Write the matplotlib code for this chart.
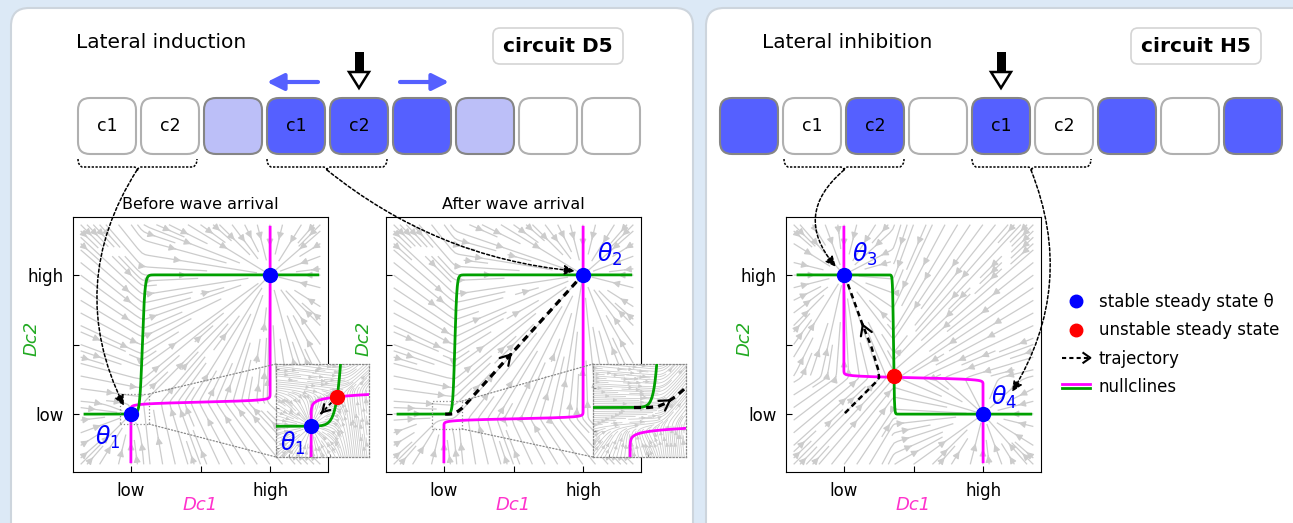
import numpy as np
import matplotlib
matplotlib.use('Agg')
import matplotlib.pyplot as plt
from matplotlib.patches import FancyBboxPatch, Polygon, Rectangle, FancyArrowPatch, ConnectionPatch, PathPatch
from matplotlib.path import Path
from matplotlib.lines import Line2D
from matplotlib.legend_handler import HandlerBase

W, H = 1293, 523

# expression levels on the normalised (log) axes
low, mid, high = 0.227, 0.5, 0.773

# cell rows
induction_colors = ['white', 'white', 'light', 'blue', 'blue', 'blue', 'light', 'white', 'white']
induction_labels = ['c1', 'c2', '', 'c1', 'c2', '', '', '', '']
inhibition_colors = ['blue', 'white', 'blue', 'white', 'blue', 'white', 'blue', 'white', 'blue']
inhibition_labels = ['', 'c1', 'c2', '', 'c1', 'c2', '', '', '']

# nullcline switches (threshold, width, direction)
before_dc1 = (0.274, 0.0035, 1)
before_dc2 = (0.272, 0.005, 1)
after_dc1 = (0.2085, 0.0031, 1)
after_dc2 = (0.270, 0.004, 1)
inhib_dc1 = (0.3695, 0.0031, -1)
inhib_dc2 = (0.4215, 0.0017, -1)

# steady states
before_stable = [(low, low), (high, high)]
before_unstable = (0.259, 0.264)
after_stable = [(high, high)]
inhib_stable = [(low, high), (high, low)]
inhib_unstable = (0.424, 0.376)

# trajectories
traj1_x = [0.252, 0.239]
traj1_y = [0.257, 0.243]
traj2_x = [0.232, 0.250, 0.262, 0.272, 0.285, 0.300, 0.500, 0.757]
traj2_y = [0.227, 0.227, 0.228, 0.232, 0.240, 0.252, 0.473, 0.757]
traj3_x = [0.231, 0.300, 0.350, 0.365, 0.362, 0.335, 0.298, 0.265, 0.236]
traj3_y = [0.231, 0.300, 0.350, 0.370, 0.400, 0.490, 0.584, 0.675, 0.755]

MAG = '#ff00ff'
GRN = '#00a000'
CELL_BLUE = '#5560ff'
CELL_LIGHT = '#bcbff8'
STREAM = '#cccccc'


def sig(z):
    return 0.5 * (1 + np.tanh(z / 2))


def switch(v, p):
    thr, w, s = p
    return low + (high - low) * sig(s * (v - thr) / w)


fig = plt.figure(figsize=(W / 100, H / 100), dpi=100)
fig.patch.set_facecolor('#dce9f6')


def px_axes(left, top, width, height, **kw):
    return fig.add_axes([left / W, 1 - (top + height) / H, width / W, height / H], **kw)


bg = px_axes(0, 0, W, H)
bg.set_xlim(0, W)
bg.set_ylim(H, 0)
bg.axis('off')
bg.set_zorder(-1)

# white panels
for x0, wd in [(11, 682), (706, 640)]:
    bg.add_patch(FancyBboxPatch((x0, 8), wd, 600, boxstyle='round,pad=0,rounding_size=18',
                                fc='white', ec='#cdd5dd', lw=1.5))

bg.text(76, 43, 'Lateral induction', fontsize=14.5, va='center')
bg.text(762, 43, 'Lateral inhibition', fontsize=14.5, va='center')
for x0, txt in [(493, 'circuit D5'), (1131, 'circuit H5')]:
    bg.add_patch(FancyBboxPatch((x0, 28), 130, 36, boxstyle='round,pad=0,rounding_size=7',
                                fc='white', ec='#d4d4d4', lw=1.2))
    bg.text(x0 + 65, 46.5, txt, fontsize=14.5, fontweight='bold', ha='center', va='center')

fills = {'white': 'white', 'light': CELL_LIGHT, 'blue': CELL_BLUE}


def cell_row(x_start, colors, labels):
    for i, (c, lab) in enumerate(zip(colors, labels)):
        x = x_start + 63 * i
        ec = '#b0b0b0' if c == 'white' else '#858585'
        bg.add_patch(FancyBboxPatch((x, 98), 58, 56, boxstyle='round,pad=0,rounding_size=12',
                                    fc=fills[c], ec=ec, lw=1.5))
        if lab:
            bg.text(x + 29, 126, lab, fontsize=12.5, ha='center', va='center')


cell_row(78, induction_colors, induction_labels)
cell_row(720, inhibition_colors, inhibition_labels)

# wave direction arrows
for xa, xb in [(318, 267), (400, 449)]:
    bg.annotate('', xy=(xb, 82), xytext=(xa, 82),
                arrowprops=dict(arrowstyle='-|>,head_length=0.5,head_width=0.25', color=CELL_BLUE,
                                lw=3, shrinkA=0, shrinkB=0, mutation_scale=20))

# perturbation markers
for xc in [359, 1001]:
    bg.add_patch(Rectangle((xc - 4.5, 52), 9, 21, fc='k', ec='none'))
    bg.add_patch(Polygon([(xc - 10, 72), (xc + 10, 72), (xc, 88)], closed=True, fc='white', ec='k', lw=1.8))

# dotted braces under the cell pairs
for xl, xr in [(78, 197), (267, 387), (784, 904), (972, 1091)]:
    xm = (xl + xr) / 2
    verts = [(xl, 159), (xl, 165), (xl + 4, 167), (xm - 4, 167), (xm, 167), (xm, 171),
             (xm, 167), (xm + 4, 167), (xr - 4, 167), (xr, 165), (xr, 159)]
    codes = [Path.MOVETO, Path.CURVE3, Path.CURVE3, Path.LINETO, Path.CURVE3, Path.CURVE3,
             Path.CURVE3, Path.CURVE3, Path.LINETO, Path.CURVE3, Path.CURVE3]
    bg.add_patch(PathPatch(Path(verts, codes), fill=False, ec='k', lw=1.1, ls=(0, (1.5, 1))))


def setup_axes(ax, ylabels=True, ylab_x=-0.129):
    ax.set_xlim(0, 1)
    ax.set_ylim(0, 1)
    ax.set_xticks([low, mid, high])
    ax.set_xticklabels(['low', '', 'high'])
    ax.set_yticks([low, mid, high])
    ax.set_yticklabels(['low', '', 'high'] if ylabels else ['', '', ''])
    ax.tick_params(direction='in', length=4, labelsize=12, pad=7)
    ax.set_xlabel('Dc1', color='#ff33cc', style='italic', fontsize=13)
    ax.xaxis.set_label_coords(0.5, -0.095)
    ax.set_ylabel('Dc2', color='#22aa22', style='italic', fontsize=13)
    ax.yaxis.set_label_coords(ylab_x, 0.525)


def phase(ax, p1, p2, extent, density, lw, asize):
    x0, x1, y0, y1 = extent
    gx = np.linspace(x0, x1, 160)
    gy = np.linspace(y0, y1, 160)
    X, Y = np.meshgrid(gx, gy)
    U = switch(Y, p1) - X
    V = switch(X, p2) - Y
    ax.streamplot(gx, gy, U, V, density=density, color=STREAM, linewidth=lw,
                  arrowsize=asize, zorder=1)
    ys = np.linspace(0.04, 0.96, 3000)
    ax.plot(switch(ys, p1), ys, color=MAG, lw=2, zorder=3)
    xs = np.linspace(0.047, 0.96, 3000)
    ax.plot(xs, switch(xs, p2), color=GRN, lw=2, zorder=3)


def head(ax, xs, ys, i, frac, ms=14):
    x0, y0, x1, y1 = xs[i], ys[i], xs[i + 1], ys[i + 1]
    px, py = x0 + frac * (x1 - x0), y0 + frac * (y1 - y0)
    ax.annotate('', xy=(px, py), xytext=(px - 0.02 * (x1 - x0), py - 0.02 * (y1 - y0)),
                arrowprops=dict(arrowstyle='->,head_length=0.5,head_width=0.3', lw=1.6, color='k',
                                shrinkA=0, shrinkB=0, mutation_scale=ms), zorder=6)


def dots(ax, pts, color, ms=10):
    for x, y in pts:
        ax.plot(x, y, 'o', color=color, ms=ms, zorder=7)


def inset(ax, left, top, lims):
    ins = px_axes(left, top, 93, 93)
    ins.set_xlim(lims[0], lims[1])
    ins.set_ylim(lims[2], lims[3])
    ins.tick_params(direction='in', length=2, width=0.6, color='#777777',
                    labelleft=False, labelbottom=False)
    for s in ins.spines.values():
        s.set_linestyle(':')
        s.set_edgecolor('#888888')
        s.set_linewidth(0.9)
    ax.add_patch(Rectangle((lims[0], lims[2]), lims[1] - lims[0], lims[3] - lims[2], fill=False,
                           ls=':', ec='#888888', lw=0.9, zorder=4))
    for a, b in [((lims[1], lims[3]), (0, 1)), ((lims[1], lims[2]), (0, 0))]:
        fig.add_artist(ConnectionPatch(xyA=a, coordsA=ax.transData, xyB=b, coordsB=ins.transAxes,
                                       ls=':', color='#888888', lw=0.9))
    return ins


# before wave arrival
ax1 = px_axes(73, 217, 255, 255)
phase(ax1, before_dc1, before_dc2, (0.03, 0.97, 0.03, 0.97), 1.3, 0.9, 1.0)
dots(ax1, before_stable, '#0000ff')
setup_axes(ax1)
ax1.set_title('Before wave arrival', fontsize=11.5, pad=6)
ax1.annotate(r'$\theta_{\mathit{1}}$', xy=before_stable[0], xytext=(-17, -17), textcoords='offset points',
             color='#0000ff', fontsize=17, ha='center', va='center')
lim1 = (0.184, 0.298, 0.188, 0.306)
in1 = inset(ax1, 276, 364, lim1)
phase(in1, before_dc1, before_dc2, lim1, 1.6, 0.6, 0.5)
in1.plot(traj1_x, traj1_y, color='k', lw=1.3, ls=(0, (2, 1.5)), zorder=5)
head(in1, traj1_x, traj1_y, 0, 1.0, ms=10)
dots(in1, before_stable[:1], '#0000ff')
dots(in1, [before_unstable], '#ff0000')
in1.annotate(r'$\theta_{\mathit{1}}$', xy=before_stable[0], xytext=(-13, -12), textcoords='offset points',
             color='#0000ff', fontsize=17, ha='center', va='center')

# after wave arrival
ax2 = px_axes(386, 217, 255, 255)
phase(ax2, after_dc1, after_dc2, (0.03, 0.97, 0.03, 0.97), 1.3, 0.9, 1.0)
ax2.plot(traj2_x, traj2_y, color='k', lw=2.3, ls=(0, (2.2, 1.6)), zorder=5)
head(ax2, traj2_x, traj2_y, 5, 0.97)
dots(ax2, after_stable, '#0000ff')
setup_axes(ax2, ylabels=False, ylab_x=-0.051)
ax2.set_title('After wave arrival', fontsize=11.5, pad=6)
ax2.annotate(r'$\theta_{\mathit{2}}$', xy=after_stable[0], xytext=(19, 15), textcoords='offset points',
             color='#0000ff', fontsize=17, ha='center', va='center')
lim2 = (0.180, 0.298, 0.169, 0.278)
in2 = inset(ax2, 593, 364, lim2)
phase(in2, after_dc1, after_dc2, lim2, 1.6, 0.6, 0.5)
in2.plot(traj2_x, traj2_y, color='k', lw=2.3, ls=(0, (2.2, 1.6)), zorder=5)
head(in2, traj2_x, traj2_y, 3, 0.6)

# lateral inhibition
ax3 = px_axes(786, 217, 255, 255)
phase(ax3, inhib_dc1, inhib_dc2, (0.03, 0.97, 0.03, 0.97), 1.3, 0.9, 1.0)
ax3.plot(traj3_x, traj3_y, color='k', lw=1.8, ls=(0, (2.2, 1.6)), zorder=5)
head(ax3, traj3_x, traj3_y, 5, 1.0)
dots(ax3, inhib_stable, '#0000ff')
dots(ax3, [inhib_unstable], '#ff0000')
setup_axes(ax3)
ax3.annotate(r'$\theta_{\mathit{3}}$', xy=inhib_stable[0], xytext=(15, 15), textcoords='offset points',
             color='#0000ff', fontsize=17, ha='center', va='center')
ax3.annotate(r'$\theta_{\mathit{4}}$', xy=inhib_stable[1], xytext=(15, 12), textcoords='offset points',
             color='#0000ff', fontsize=17, ha='center', va='center')


class TrajHandler(HandlerBase):
    def create_artists(self, legend, orig, xd, yd, width, height, fontsize, trans):
        y = height / 2 - yd
        x0 = -xd
        line = Line2D([x0, x0 + width - 2], [y, y], color='k', lw=1.5, ls=(0, (2, 1.5)), transform=trans)
        tip = Line2D([x0 + width - 5, x0 + width, x0 + width - 5], [y + 3.5, y, y - 3.5],
                     color='k', lw=1.5, transform=trans)
        return [line, tip]


class NullHandler(HandlerBase):
    def create_artists(self, legend, orig, xd, yd, width, height, fontsize, trans):
        y = height / 2 - yd
        x0 = -xd
        a = Line2D([x0, x0 + width], [y + 1.6, y + 1.6], color=MAG, lw=2, transform=trans)
        b = Line2D([x0, x0 + width], [y - 1.6, y - 1.6], color=GRN, lw=2, transform=trans)
        return [a, b]


h_stable = Line2D([], [], marker='o', ls='', color='#0000ff', ms=9)
h_unstable = Line2D([], [], marker='o', ls='', color='#ff0000', ms=9)
h_traj = Line2D([], [], color='k')
h_null = Line2D([], [], color=MAG)
ax3.legend([h_stable, h_unstable, h_traj, h_null],
           ['stable steady state θ', 'unstable steady state', 'trajectory', 'nullclines'],
           handler_map={h_traj: TrajHandler(), h_null: NullHandler()},
           loc='upper left', bbox_to_anchor=(1047 / W, 1 - 278 / H), bbox_transform=fig.transFigure,
           frameon=False, fontsize=12, handlelength=1.7, handletextpad=0.5, labelspacing=0.62)

# dotted links from the cell pairs to their steady states
fg = px_axes(0, 0, W, H)
fg.set_xlim(0, W)
fg.set_ylim(H, 0)
fg.axis('off')
fg.set_zorder(10)
fg.patch.set_alpha(0)
for start, end, rad in [((137, 170), (124, 406), 0.28), ((327, 170), (575, 271), 0.15),
                        ((844, 170), (836, 267), 0.5), ((1031, 170), (1012, 392), -0.25)]:
    fg.add_patch(FancyArrowPatch(start, end, connectionstyle=f'arc3,rad={rad}',
                                 arrowstyle='-|>,head_length=0.45,head_width=0.2', mutation_scale=14,
                                 color='k', lw=1.1, ls=(0, (2, 1.5)), shrinkA=0, shrinkB=0))

fig.savefig('out.png', dpi=100, facecolor=fig.get_facecolor())
